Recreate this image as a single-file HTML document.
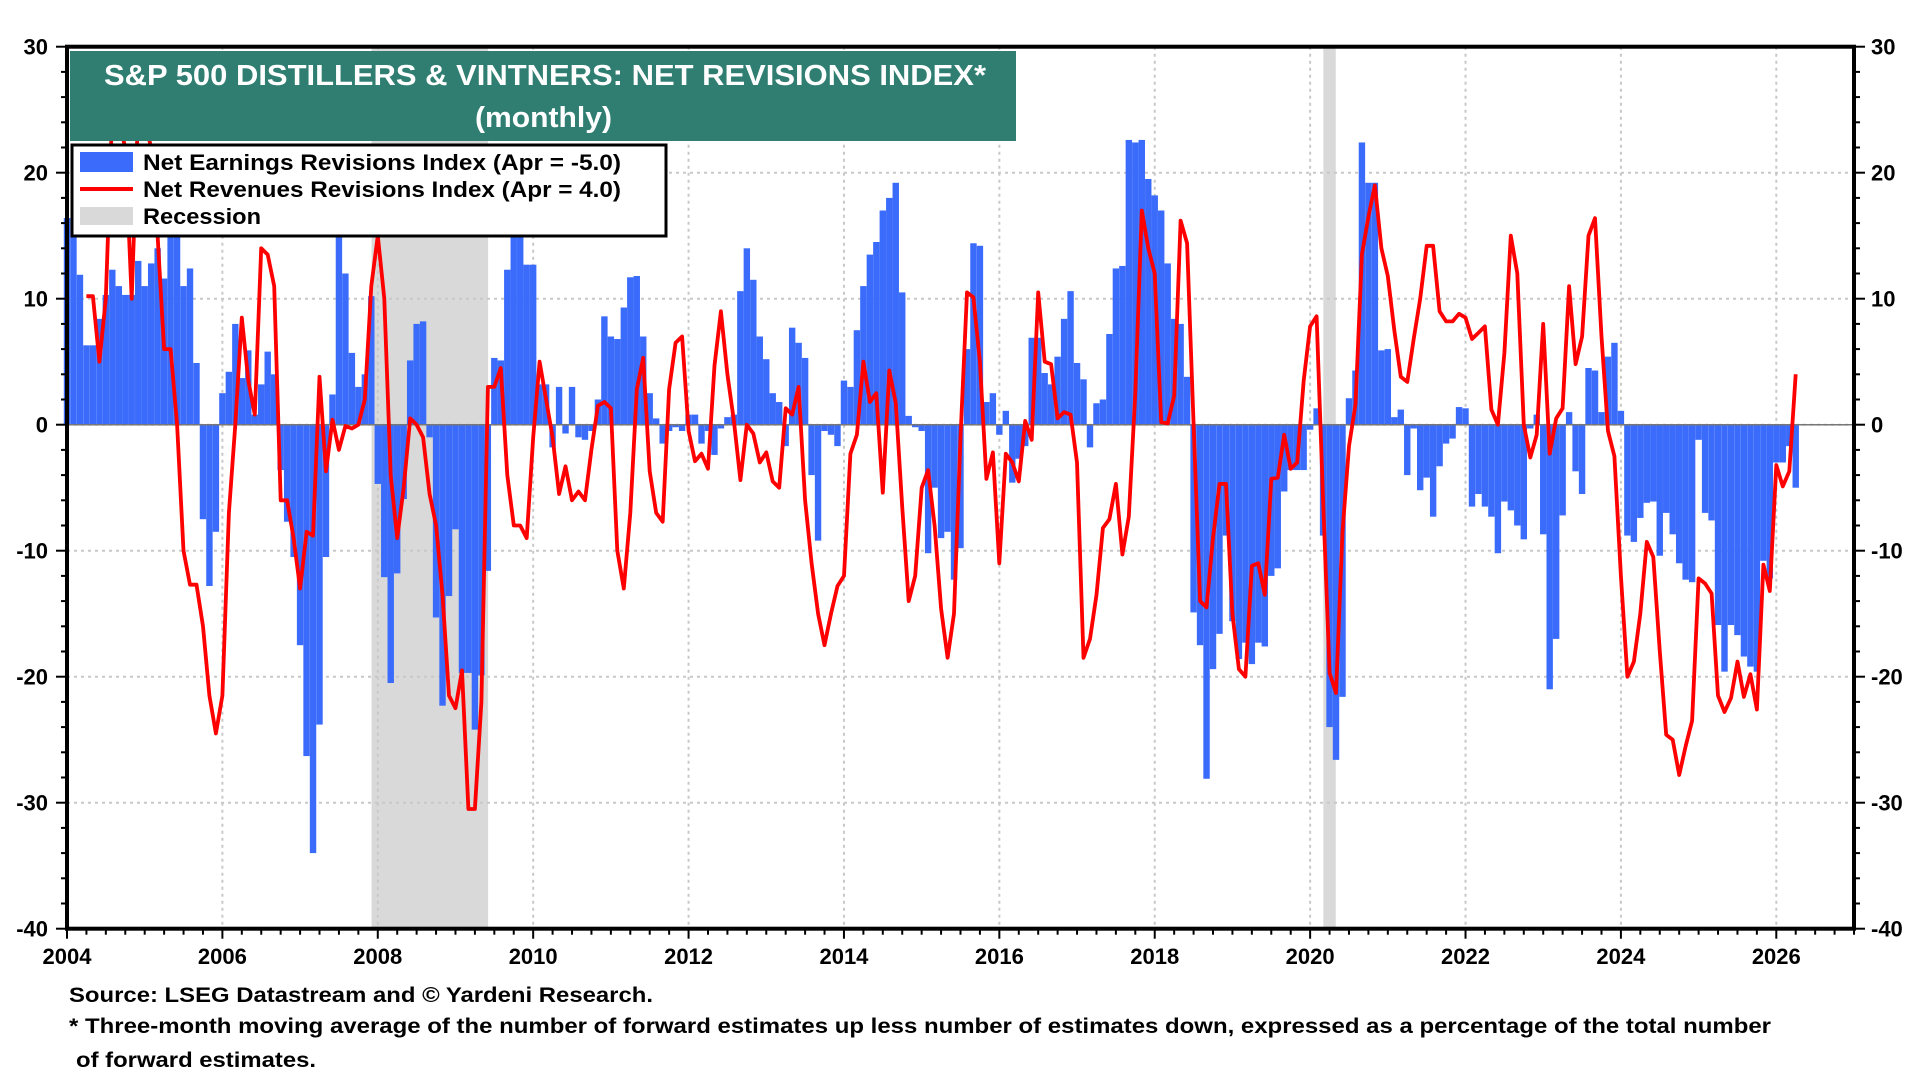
<!DOCTYPE html>
<html><head><meta charset="utf-8">
<style>
html,body{margin:0;padding:0;background:#fff;}
body{position:relative;width:1920px;height:1080px;overflow:hidden;}
svg{display:block;font-family:"Liberation Sans",Arial,sans-serif;font-weight:bold;}
</style></head>
<body>
<svg id="chart" width="1920" height="1080" viewBox="0 0 1920 1080" xmlns="http://www.w3.org/2000/svg">
<g id="bg"></g>
<g id="grid"></g>
<g id="bars"></g>
<g id="line"></g>
<g id="axes"></g>
</svg>
<script>
// ---- data (monthly, Jan 2004 .. Apr 2026) ----
const startYear = 2004;
const earnings = [
16.4,16.4,11.9,6.3,6.3,8.4,10.3,12.3,11,10.3,10.3,13,
11,12.8,14,11.6,22,22,11,12.4,4.9,-7.5,-12.8,-8.5,
2.5,4.2,8,3.7,5.9,0.8,3.2,5.8,4,-3.6,-7.7,-10.5,
-17.5,-26.3,-34,-23.8,-10.5,2.4,15.3,12,5.7,3,4,10.2,
-4.7,-12.1,-20.5,-11.8,-5.9,5.1,8,8.2,-1,-15.3,-22.3,-13.6,
-8.3,-19.7,-19.7,-24.2,-19.9,-11.6,5.3,5.1,12.3,16,15.8,12.7,
12.7,3.2,3.2,-1.8,3,-0.7,3,-1,-1.2,-0.5,2,8.6,
7,6.8,9.3,11.7,11.8,7,2.5,0.5,-1.5,-0.5,-0.2,-0.5,
0.8,0.8,-1.5,-0.5,-2.4,-0.3,0.6,0.8,10.6,14,11.5,7,
5.2,2.5,1.8,-1.7,7.7,6.5,5.3,-4,-9.2,-0.5,-0.8,-1.7,
3.5,3,7.5,11,13.5,14.5,17,18,19.2,10.5,0.7,-0.2,
-0.5,-10.2,-5,-9,-8.5,-12.3,-9.8,6,14.4,14.2,1.8,2.5,
-0.8,1.1,-4.6,-2.7,-1.7,6.9,6.9,4.1,3.2,5.4,8.4,10.6,
4.9,3.6,-1.8,1.7,2,7.2,12.4,12.6,22.6,22.4,22.6,19.5,
18.2,17,12.8,8.4,8,3.8,-14.9,-17.5,-28.1,-19.4,-16.6,-8.8,
-15.6,-18.6,-17.3,-19,-17.3,-17.6,-12,-11.4,-5.3,-3.6,-3.6,-3.6,
-0.4,1.3,-8.8,-24,-26.6,-21.6,2.1,4.3,22.4,19.2,19.2,5.9,
6,0.6,1.2,-4,-0.3,-5.2,-4.2,-7.3,-3.3,-1.5,-1.1,1.4,
1.3,-6.5,-5.5,-6.5,-7.3,-10.2,-6.1,-6.8,-8,-9.1,-0.3,0.8,
-8.7,-21,-17,-7.2,1,-3.7,-5.5,4.5,4.3,1,5.4,6.5,
1.1,-8.8,-9.3,-7.4,-6.2,-6.1,-10.4,-7,-8.7,-11,-12.3,-12.5,
-1.2,-7,-7.6,-15.9,-19.6,-15.9,-16.7,-18.4,-19.2,-19.6,-10.8,-12.2,
-3,-3,-1.7,-5
];
const revenues = [
null,null,null,10.2,10.2,5,10,25,24,22,10,25,
24,22,15,6,6,0,-10,-12.7,-12.7,-16,-21.5,-24.5,
-21.5,-7,0,8.5,3.5,0.8,14,13.5,11,-6,-6,-9,
-13,-8.5,-8.8,3.8,-3.7,0.4,-2,-0.1,-0.3,0,2,11,
15,10,-4,-9,-5,0.5,0,-1,-5.5,-8,-13.5,-21.5,
-22.5,-19.5,-30.5,-30.5,-22,3,3,4.5,-4,-8,-8,-9,
-1,5,2,-1,-5.5,-3.3,-6,-5.3,-6,-2,1.5,1.8,
1.3,-10,-13,-7,2.8,5.3,-3.7,-7,-7.7,2.8,6.5,7,
-0.5,-2.9,-2.3,-3.5,4.7,9,4,0.3,-4.4,0,-0.7,-3,
-2.2,-4.5,-5,1.3,0.8,3,-6,-11,-15,-17.5,-15,-12.8,
-12,-2.3,-0.8,5,1.8,2.5,-5.4,4.3,1.7,-6.5,-14,-12,
-5,-3.6,-8,-14.6,-18.5,-15,-1,10.5,10.1,5,-4.3,-2.2,
-11,-2.3,-3,-4.5,0.3,-1.2,10.5,5,4.8,0.5,1,0.8,
-3,-18.5,-17,-13.5,-8.2,-7.5,-4.7,-10.3,-7.3,2.5,17,14,
12,0.2,0.1,2.3,16.2,14.4,0,-14,-14.5,-9,-4.7,-4.7,
-15,-19.4,-20,-11.2,-11,-13.5,-4.3,-4.2,-0.8,-3.5,-3,3.5,
7.8,8.6,-6,-19.7,-21.3,-8.5,-1.7,1.6,13.5,16.5,19,14,
11.8,7.5,3.8,3.4,6.8,10,14.2,14.2,9,8.2,8.2,8.8,
8.5,6.8,7.3,7.8,1.2,0,5.7,15,12,0,-2.6,-0.8,
8,-2.3,0.5,1.3,11,4.8,7,15,16.4,7,-0.5,-2.5,
-12,-20,-18.8,-15,-9.3,-10.5,-18,-24.6,-25,-27.8,-25.5,-23.5,
-12.2,-12.6,-13.4,-21.5,-22.8,-21.7,-18.8,-21.6,-19.8,-22.6,-11.1,-13.2,
-3.2,-4.9,-3.7,4
];
const recessionStarts = [2007.92, 2020.17];
const recessionEnds = [2009.42, 2020.33];
const yTicks = [30,20,10,0,-10,-20,-30,-40];
const xTickYears = [2004,2006,2008,2010,2012,2014,2016,2018,2020,2022,2024,2026];

// ---- geometry ----
const L=67, R=1854, T=46.7, B=928.7;
const yMin=-40, yMax=30, xMin=2004, xMax=2027;
function X(yr){ return L + (yr-xMin)/(xMax-xMin)*(R-L); }
function XM(m){ return X(startYear + m/12); }
function Y(v){ return T + (yMax-v)/(yMax-yMin)*(B-T); }
const NS="http://www.w3.org/2000/svg";
function mk(tag, attrs, parent){ const e=document.createElementNS(NS,tag); for(const k in attrs) e.setAttribute(k,attrs[k]); parent.appendChild(e); return e; }
const gBg=document.getElementById('bg'), gGrid=document.getElementById('grid'), gBars=document.getElementById('bars'), gLine=document.getElementById('line'), gAxes=document.getElementById('axes');

for(let i=0;i<recessionStarts.length;i++){
  const r=mk('rect',{x:X(recessionStarts[i]),y:T,width:X(recessionEnds[i])-X(recessionStarts[i]),height:B-T,fill:'#d9d9d9'},gBg);
  
  
}
yTicks.forEach(v=>{ if(v===yMax||v===yMin) return;
  const l=mk('line',{x1:L,x2:R,y1:Y(v),y2:Y(v),stroke:'#c8c8c8','stroke-width':2,'stroke-dasharray':'3,4'},gGrid);
  
  
});
xTickYears.forEach(yr=>{ if(yr===xMin) return;
  const l=mk('line',{x1:X(yr),x2:X(yr),y1:T,y2:B,stroke:'#c8c8c8','stroke-width':2,'stroke-dasharray':'3,4'},gGrid);
  
  
});
earnings.forEach((v,m)=>{
  const x=XM(m), y0=Y(0), y1=Y(v);
  const b=mk('rect',{x:x-3.2,y:Math.min(y0,y1),width:6.4,height:Math.max(1.5,Math.abs(y1-y0)),fill:'#3a6bfb'},gBars);
  
  
});
const z=mk('line',{x1:L,x2:R,y1:Y(0),y2:Y(0),stroke:'#777','stroke-width':1.5},gLine);


let d='', pen=false;
revenues.forEach((v,m)=>{ if(v===null){pen=false;return;} d+=(pen?'L':'M')+XM(m).toFixed(1)+','+Y(v).toFixed(1); pen=true; });
const pl=mk('path',{d:d,fill:'none',stroke:'#ff0000','stroke-width':3.8,'stroke-linejoin':'round'},gLine);



const fr=mk('rect',{x:L,y:T,width:R-L,height:B-T,fill:'none',stroke:'#000','stroke-width':4},gAxes);


for(let v=yMin; v<=yMax; v+=2){
  const major = v%10===0;
  const len = major?11:6;
  mk('line',{x1:L-len,x2:L,y1:Y(v),y2:Y(v),stroke:'#000','stroke-width':2},gAxes);
  mk('line',{x1:R,x2:R+len,y1:Y(v),y2:Y(v),stroke:'#000','stroke-width':2},gAxes);
}
yTicks.forEach(v=>{
  const t1=mk('text',{x:48,y:Y(v)+8,'text-anchor':'end','font-size':22,fill:'#000'},gAxes);
  t1.textContent=v;
  
  
  const t2=mk('text',{x:1871,y:Y(v)+8,'text-anchor':'start','font-size':22,fill:'#000'},gAxes);
  t2.textContent=v;
  
  
});
for(let q=0; q<=(xMax-xMin)*4; q++){
  const yr=xMin+q/4, major=q%8===0;
  mk('line',{x1:X(yr),x2:X(yr),y1:B,y2:B+(major?10:6),stroke:'#000','stroke-width':2},gAxes);
}
xTickYears.forEach(yr=>{
  const t=mk('text',{x:X(yr),y:964,'text-anchor':'middle','font-size':22,fill:'#000'},gAxes);
  t.textContent=yr;
  
  
});
</script>
<svg style="position:absolute;left:0;top:0" width="1920" height="1080" xmlns="http://www.w3.org/2000/svg">
  <g>
    <rect x="70" y="51" width="946" height="90" fill="#2f7e71"/>
    <text x="104" y="85" font-size="29" fill="#fff" textLength="882" lengthAdjust="spacingAndGlyphs">S&amp;P 500 DISTILLERS &amp; VINTNERS: NET REVISIONS INDEX*</text>
    <text x="475" y="127" font-size="29" fill="#fff" textLength="137" lengthAdjust="spacingAndGlyphs">(monthly)</text>
  </g>
  <g>
    <rect x="72" y="145" width="594" height="91" fill="#fff" stroke="#000" stroke-width="3"/>
    <g>
      <rect x="80" y="152" width="53" height="20" fill="#3a6bfb"/>
      <text x="143" y="170" font-size="22" fill="#000" textLength="478" lengthAdjust="spacingAndGlyphs">Net Earnings Revisions Index (Apr  = -5.0)</text>
    </g>
    <g>
      <rect x="80" y="187" width="53" height="4" fill="#ff0000"/>
      <text x="143" y="197" font-size="22" fill="#000" textLength="478" lengthAdjust="spacingAndGlyphs">Net Revenues Revisions Index (Apr  = 4.0)</text>
    </g>
    <g>
      <rect x="80" y="207" width="53" height="18" fill="#d9d9d9"/>
      <text x="143" y="224" font-size="22" fill="#000" textLength="118" lengthAdjust="spacingAndGlyphs">Recession</text>
    </g>
  </g>
  <g>
    <text x="69" y="1002" font-size="21" fill="#000" textLength="584" lengthAdjust="spacingAndGlyphs">Source: LSEG Datastream and © Yardeni Research.</text>
    <text x="69" y="1033" font-size="21" fill="#000" textLength="1702" lengthAdjust="spacingAndGlyphs">* Three-month moving average of the number of forward estimates up less number of estimates down, expressed as a percentage of the total number</text>
    <text x="76" y="1067" font-size="21" fill="#000" textLength="240" lengthAdjust="spacingAndGlyphs">of forward estimates.</text>
  </g>
</svg>
</body></html>
